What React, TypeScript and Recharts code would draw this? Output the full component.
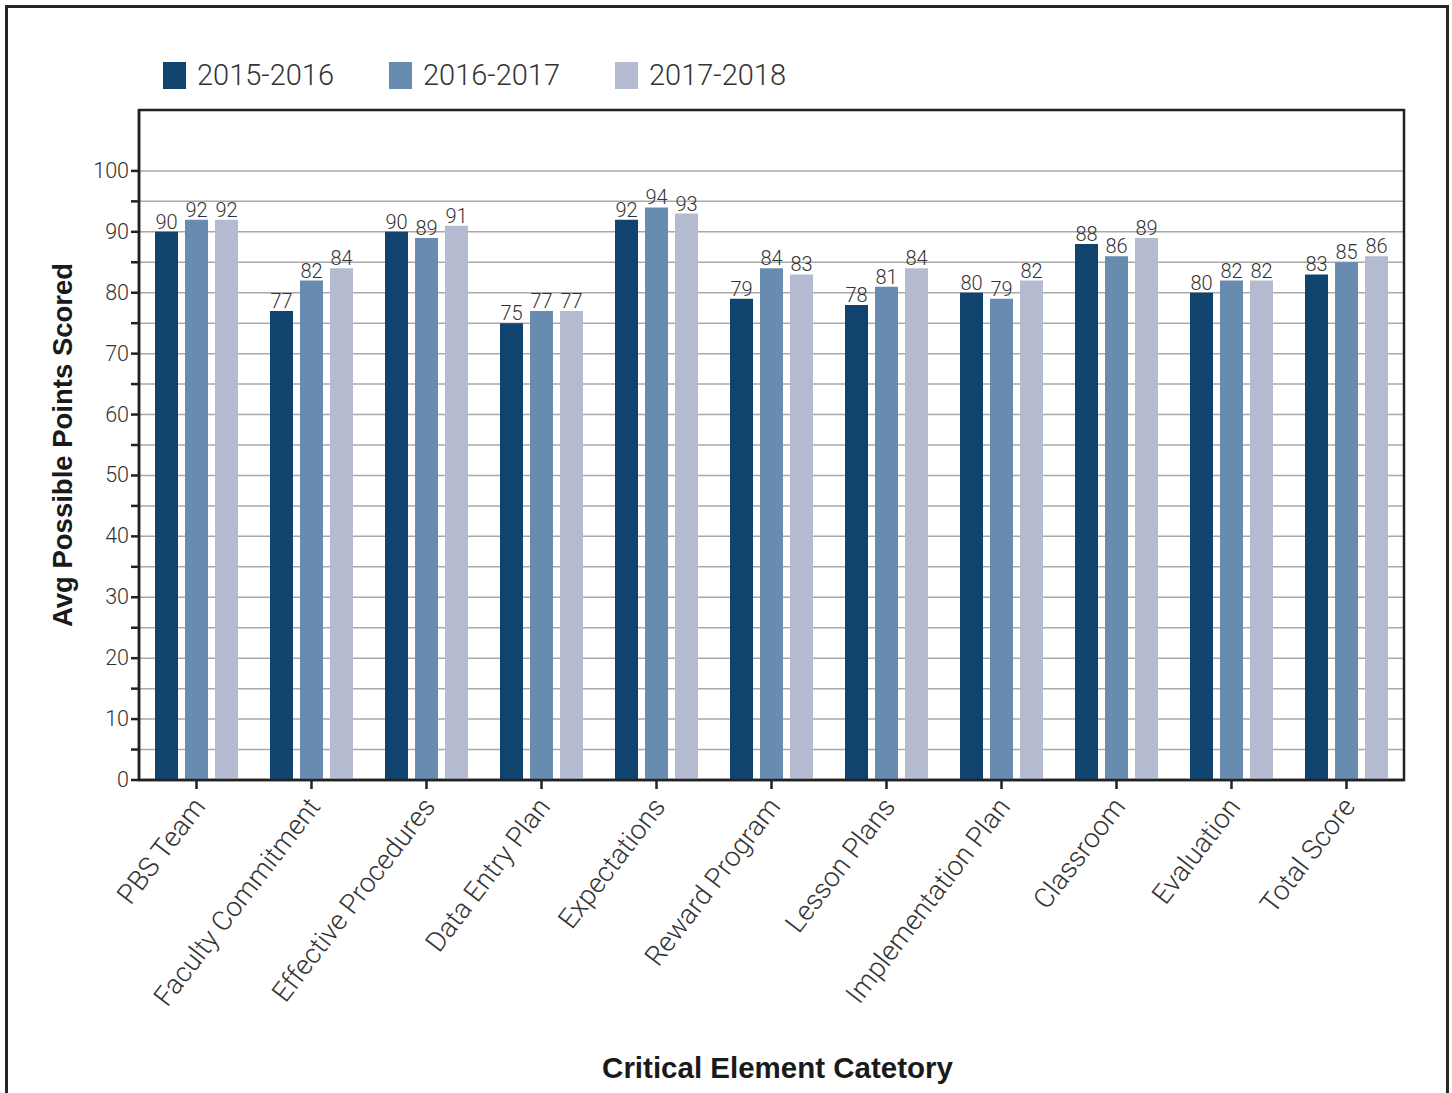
import React from "react";
import {
  BarChart,
  Bar,
  XAxis,
  YAxis,
  CartesianGrid,
  Legend,
  LabelList,
  ReferenceArea,
  Label,
} from "recharts";

const categories = [
  "PBS Team",
  "Faculty Commitment",
  "Effective Procedures",
  "Data Entry Plan",
  "Expectations",
  "Reward Program",
  "Lesson Plans",
  "Implementation Plan",
  "Classroom",
  "Evaluation",
  "Total Score",
];
const scores1516 = [90, 77, 90, 75, 92, 79, 78, 80, 88, 80, 83];
const scores1617 = [92, 82, 89, 77, 94, 84, 81, 79, 86, 82, 85];
const scores1718 = [92, 84, 91, 77, 93, 83, 84, 82, 89, 82, 86];
const yTicks = [0, 5, 10, 15, 20, 25, 30, 35, 40, 45, 50, 55, 60, 65, 70, 75, 80, 85, 90, 95, 100];

const data = categories.map((name, i) => ({
  name,
  y1516: scores1516[i],
  y1617: scores1617[i],
  y1718: scores1718[i],
}));

const INK = "#222";
const TEXT = "#333";
const LIGHT_FONT = "Roboto, 'Liberation Sans', sans-serif";
const BOLD_FONT = "'Liberation Sans', Arial, sans-serif";

const YTick = (props: any) => {
  const { x, y, payload } = props;
  if (payload.value % 10 !== 0) return <g />;
  return (
    <text x={x} y={y} dy={7} textAnchor="end" fontSize={21.5} fontWeight={300} fill={TEXT} fontFamily={LIGHT_FONT}>
      {payload.value}
    </text>
  );
};

const XTick = (props: any) => {
  const { x, y, payload } = props;
  const tx = x + 10;
  const ty = y + 16;
  return (
    <text
      x={tx}
      y={ty}
      transform={`rotate(-52.5, ${tx}, ${ty})`}
      textAnchor="end"
      fontSize={27.5}
      fontWeight={300}
      fill={TEXT}
      fontFamily={LIGHT_FONT}
    >
      {payload.value}
    </text>
  );
};

const LegendContent = (props: any) => {
  const { payload } = props;
  return (
    <div style={{ display: "flex" }}>
      {(payload || []).map((p: any) => (
        <div key={p.value} style={{ display: "flex", alignItems: "center", width: 226 }}>
          <span style={{ display: "inline-block", width: 23, height: 27, background: p.color, marginRight: 11 }} />
          <span style={{ fontSize: 29, fontWeight: 300, color: TEXT, fontFamily: LIGHT_FONT, lineHeight: "30px" }}>
            {p.value}
          </span>
        </div>
      ))}
    </div>
  );
};

const YTitle = (props: any) => {
  const { viewBox } = props;
  const cx = viewBox.x - 17;
  const cy = viewBox.y + viewBox.height / 2;
  return (
    <text
      x={cx}
      y={cy}
      transform={`rotate(-90, ${cx}, ${cy})`}
      textAnchor="middle"
      dominantBaseline="central"
      fontSize={27.5}
      fontWeight={700}
      fill="#1a1a1a"
      fontFamily={BOLD_FONT}
    >
      Avg Possible Points Scored
    </text>
  );
};

const XTitle = (props: any) => {
  const { viewBox } = props;
  return (
    <text
      x={viewBox.x + viewBox.width / 2 + 6}
      y={viewBox.y + viewBox.height + 68}
      textAnchor="middle"
      fontSize={29.5}
      fontWeight={700}
      fill="#1a1a1a"
      fontFamily={BOLD_FONT}
    >
      Critical Element Catetory
    </text>
  );
};

const labelStyle = { fontSize: 20, fontWeight: 300, fill: TEXT, fontFamily: LIGHT_FONT };

export default function App() {
  return (
    <div
      style={{
        position: "absolute",
        left: 0,
        top: 0,
        width: 1452,
        height: 1093,
        overflow: "hidden",
        background: "#fff",
        fontFamily: LIGHT_FONT,
      }}
    >
      <div
        style={{
          position: "absolute",
          left: 5,
          top: 5,
          width: 1438,
          height: 1100,
          border: "3px solid #262626",
          borderBottom: "none",
        }}
      />
      <BarChart
        width={1452}
        height={1093}
        data={data}
        margin={{ top: 110, right: 48, bottom: 83, left: 79 }}
        barCategoryGap={16}
        barGap={7}
      >
        <CartesianGrid vertical={false} stroke="#a9a9a9" strokeWidth={1.5} />
        <XAxis
          dataKey="name"
          interval={0}
          height={230}
          tick={<XTick />}
          tickSize={9}
          tickLine={{ stroke: INK, strokeWidth: 2.5 }}
          axisLine={{ stroke: INK, strokeWidth: 2.5 }}
        >
          <Label content={<XTitle />} />
        </XAxis>
        <YAxis
          width={60}
          domain={[0, 110]}
          ticks={yTicks}
          interval={0}
          tick={<YTick />}
          tickSize={8}
          tickLine={{ stroke: INK, strokeWidth: 2.5 }}
          axisLine={{ stroke: INK, strokeWidth: 2.5 }}
        >
          <Label content={<YTitle />} />
        </YAxis>
        <Legend
          layout="horizontal"
          verticalAlign="middle"
          align="center"
          content={<LegendContent />}
          wrapperStyle={{ top: 60, left: 163, width: "auto" }}
        />
        <Bar dataKey="y1516" name="2015-2016" fill="#10446F" isAnimationActive={false}>
          <LabelList dataKey="y1516" position="top" offset={3} style={labelStyle} />
        </Bar>
        <Bar dataKey="y1617" name="2016-2017" fill="#688CB0" isAnimationActive={false}>
          <LabelList dataKey="y1617" position="top" offset={3} style={labelStyle} />
        </Bar>
        <Bar dataKey="y1718" name="2017-2018" fill="#B4BACF" isAnimationActive={false}>
          <LabelList dataKey="y1718" position="top" offset={3} style={labelStyle} />
        </Bar>
        <ReferenceArea y1={0} y2={110} fill="none" stroke={INK} strokeWidth={2.5} />
      </BarChart>
    </div>
  );
}
